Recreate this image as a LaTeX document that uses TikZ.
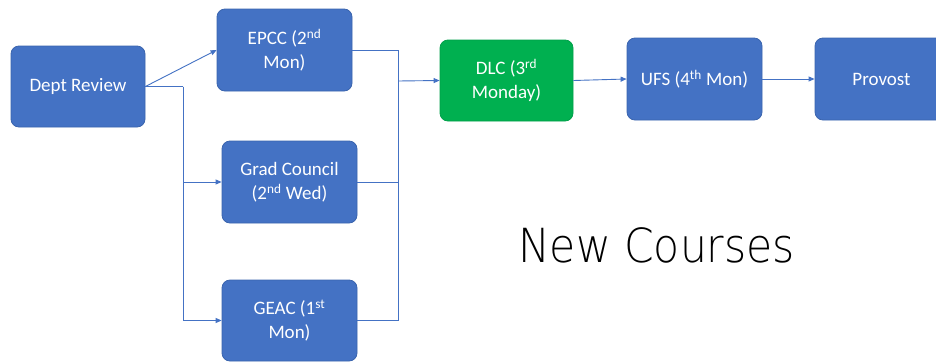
\documentclass[tikz,border=0pt]{standalone}
\usepackage{fontspec}
\setmainfont{Carlito}
\newfontfamily\thinfont{DejaVu Sans ExtraLight}
\usetikzlibrary{arrows.meta}
\definecolor{boxblue}{HTML}{4472C4}
\definecolor{boxedge}{HTML}{3A64AE}
\definecolor{boxgreen}{HTML}{00B050}
\definecolor{greenedge}{HTML}{00A04A}
\begin{document}
\begin{tikzpicture}[x=1pt,y=-1pt,
  stepbox/.style={rounded corners=8pt, fill=boxblue, draw=boxedge, line width=0.8pt,
    minimum width=134pt, minimum height=81pt, align=center, text=white,
    font=\fontsize{19}{24}\selectfont, inner sep=2pt},
  conn/.style={draw=boxblue, line width=0.9pt},
  arr/.style={conn, -{Triangle[length=6pt,width=5pt]}}]
\clip (0,0) rectangle (936,362);
\fill[white] (0,0) rectangle (936,362);
\node[stepbox] (dept) at (78,86.5) {Dept Review};
\node[stepbox, minimum width=135pt, minimum height=82pt] (epcc) at (284.5,50) {EPCC (2\textsuperscript{nd}\\Mon)};
\node[stepbox, minimum width=135pt, minimum height=82pt] (grad) at (289.5,182) {Grad Council\\(2\textsuperscript{nd} Wed)};
\node[stepbox, minimum width=135pt, minimum height=81pt] (geac) at (289.5,320.5) {GEAC (1\textsuperscript{st}\\Mon)};
\node[stepbox, fill=boxgreen, draw=greenedge, minimum width=133pt] (dlc) at (506.5,80.5) {DLC (3\textsuperscript{rd}\\Monday)};
\node[stepbox, minimum width=135pt, minimum height=82pt] (ufs) at (694.5,79) {UFS (4\textsuperscript{th} Mon)};
\node[stepbox, minimum width=133pt, minimum height=82pt] (prov) at (881.5,79) {Provost};
\node[font=\thinfont\fontsize{47}{50}\selectfont, anchor=base, inner sep=0pt] (title) at (656.5,262) {\scalebox{0.905}[1]{New Courses}};
\coordinate (j1) at (183,86.5);
\coordinate (j2) at (398,81);
\draw[arr] (dept.east) -- (epcc.west);
\draw[conn] (dept.east) -- (j1);
\draw[arr] (j1) |- (grad.west);
\draw[arr] (j1) |- (geac.west);
\draw[conn] (epcc.east) -| (j2);
\draw[conn] (grad.east) -| (j2);
\draw[conn] (geac.east) -| (j2);
\draw[arr] (j2) -- (dlc.west);
\draw[arr] (dlc.east) -- (ufs.west);
\draw[arr] (ufs.east) -- (prov.west);
\end{tikzpicture}
\end{document}
